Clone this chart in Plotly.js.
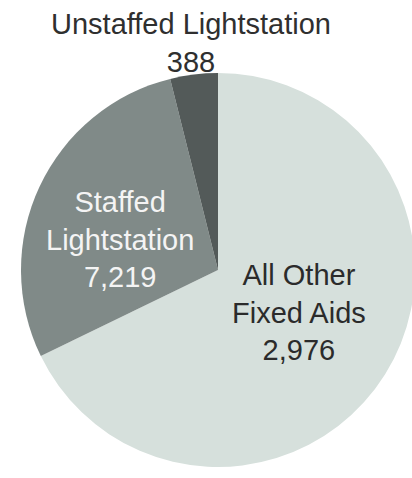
<!DOCTYPE html>
<html>
<head>
<meta charset="utf-8">
<script src="https://cdn.plot.ly/plotly-3.0.1.min.js"></script>
<style>
html, body { margin: 0; padding: 0; background: #ffffff; overflow: hidden; }
#chart { width: 430px; height: 478px; }
</style>
</head>
<body>
<div id="chart"></div>
<script>
// Slice categories (in clockwise order from 12 o'clock)
const categories = ['All Other Fixed Aids', 'Staffed Lightstation', 'Unstaffed Lightstation'];
// Slice shares (%), estimated from the angles of the slices in the picture
const shares = [67.8, 28.3, 3.9];
// Value labels printed on the chart
const valueLabels = ['2,976', '7,219', '388'];
// Label text as broken into lines on the chart
const labelLines = ['All Other<br>Fixed Aids', 'Staffed<br>Lightstation', 'Unstaffed Lightstation'];

const W = 430, H = 478;
const cx = 218, cy = 270, R = 197;

const colors = ['#d6e0dc', '#808a88', '#535a59'];

const trace = {
  type: 'pie',
  labels: categories,
  values: shares,
  sort: false,
  direction: 'clockwise',
  rotation: 0,
  textinfo: 'none',
  hoverinfo: 'label+value',
  marker: { colors: colors, line: { width: 0 } },
  domain: {
    x: [(cx - R) / W, (cx + R) / W],
    y: [(H - cy - R) / H, (H - cy + R) / H]
  },
  showlegend: false
};

const labelPos = [
  { x: 299, y: 312, color: '#2b2b2b' },
  { x: 120, y: 239, color: '#f4f4f4' },
  { x: 191, y: 43, color: '#2f2f2f' }
];

const annotations = categories.map((c, i) => ({
  xref: 'paper', yref: 'paper',
  x: labelPos[i].x / W,
  y: 1 - labelPos[i].y / H,
  xanchor: 'center', yanchor: 'middle',
  showarrow: false,
  align: 'center',
  text: labelLines[i] + '<br>' + valueLabels[i],
  font: { family: 'Liberation Sans, Arial, sans-serif', size: 29, color: labelPos[i].color }
}));

const layout = {
  width: W, height: H,
  margin: { l: 0, r: 0, t: 0, b: 0 },
  paper_bgcolor: '#ffffff',
  plot_bgcolor: '#ffffff',
  annotations: annotations
};

Plotly.newPlot('chart', [trace], layout, { displayModeBar: false, staticPlot: true });
</script>
</body>
</html>
